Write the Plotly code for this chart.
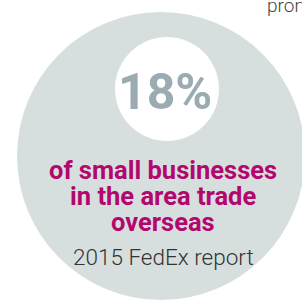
import plotly.graph_objects as go

# Data
share_value = 18
share_unit = "%"
headline_lines = ["of small businesses", "in the area trade", "overseas"]
source_label = "2015 FedEx report"
cut_text = "prom"

W, H = 302, 301
fig = go.Figure()

# big background circle
fig.add_shape(type="circle", xref="x", yref="y", x0=161 - 144, x1=161 + 144,
              y0=156 - 144, y1=156 + 144, fillcolor="#d7dfde", line_width=0, layer="below")
# white inner circle
fig.add_shape(type="circle", xref="x", yref="y", x0=167 - 52, x1=167 + 52,
              y0=89 - 52, y1=89 + 52, fillcolor="#ffffff", line_width=0, layer="below")

anns = []
anns.append(dict(x=165, y=92, text=f"<b>{share_value}{share_unit}</b>", showarrow=False,
                 xref="x", yref="y", xanchor="center", yanchor="middle",
                 font=dict(family="Roboto", size=50, color="#9aabb2")))
line_y = [169, 195, 221]
for t, yy in zip(headline_lines, line_y):
    anns.append(dict(x=163, y=yy, text=f"<b>{t}</b>", showarrow=False, xref="x", yref="y",
                     xanchor="center", yanchor="middle", height=25, valign="middle",
                     font=dict(family="Roboto", size=25.5, color="#b3076d")))
anns.append(dict(x=163, y=257, text=source_label, showarrow=False, xref="x", yref="y",
                 xanchor="center", yanchor="middle",
                 font=dict(family="Roboto", size=22.5, color="#333333", weight=300)))
anns.append(dict(x=265, y=5, text=cut_text, showarrow=False, xref="x", yref="y",
                 xanchor="left", yanchor="middle",
                 font=dict(family="Roboto", size=19, color="#444444", weight=300)))

fig.update_layout(
    width=W, height=H, margin=dict(l=0, r=0, t=0, b=0),
    paper_bgcolor="#ffffff", plot_bgcolor="#ffffff",
    xaxis=dict(range=[0, W], visible=False, fixedrange=True),
    yaxis=dict(range=[H, 0], visible=False, fixedrange=True),
    annotations=anns, showlegend=False,
)
fig.write_html("out.html", config={"displayModeBar": False})

with open("out.html", "r", encoding="utf-8") as f:
    html = f.read()
html = html.replace("<head>", "<head><style>html,body{margin:0;padding:0;overflow:hidden;}</style>", 1)
with open("out.html", "w", encoding="utf-8") as f:
    f.write(html)
